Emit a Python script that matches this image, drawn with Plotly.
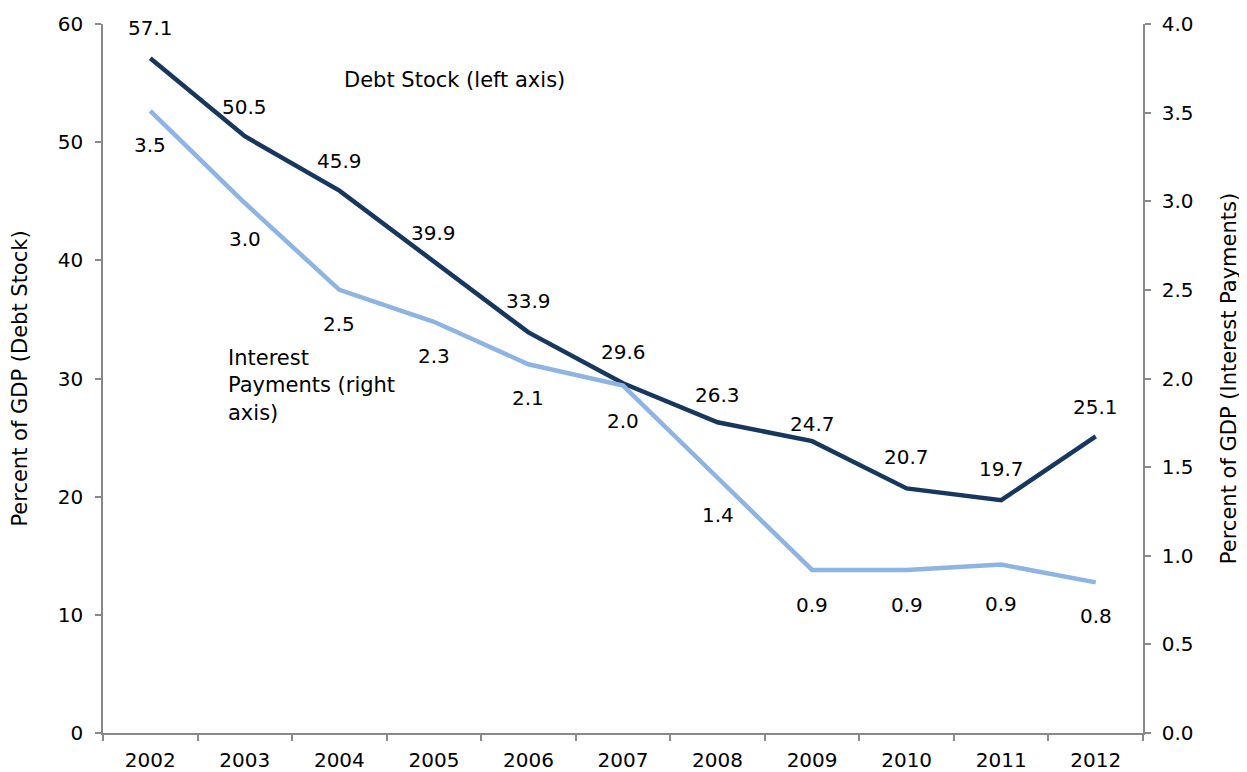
import plotly.graph_objects as go

years = ["2002", "2003", "2004", "2005", "2006", "2007", "2008", "2009", "2010", "2011", "2012"]
debt_stock = [57.1, 50.5, 45.9, 39.9, 33.9, 29.6, 26.3, 24.7, 20.7, 19.7, 25.1]
interest_payments = [3.5, 3.0, 2.5, 2.3, 2.1, 2.0, 1.4, 0.9, 0.9, 0.9, 0.8]
# plotted positions of interest line (more precise than rounded labels)
interest_plot = [3.51, 2.99, 2.50, 2.32, 2.08, 1.96, 1.44, 0.92, 0.92, 0.95, 0.85]

left_ticks = [0, 10, 20, 30, 40, 50, 60]
right_ticks = [0.0, 0.5, 1.0, 1.5, 2.0, 2.5, 3.0, 3.5, 4.0]

DARK = "#17375E"
LIGHT = "#8DB4E2"
FONT = "DejaVu Sans, Verdana, sans-serif"
FS = 20
FS_TXT = 21

W, H = 1247, 772
OFF = 8  # page body margin
X0, X1, Y0, Y1 = 103, 1143, 24, 733  # desired plot area on screen
L, T = X0 - OFF, Y0 - OFF
R, B = W - (X1 - OFF), H - (Y1 - OFF)
pw, ph = X1 - X0, Y1 - Y0


def px(x, y):
    return (x - X0) / pw, 1 - (y - Y0) / ph


fig = go.Figure()
fig.add_trace(go.Scatter(x=years, y=debt_stock, mode="lines",
                         line=dict(color=DARK, width=4.5), yaxis="y", showlegend=False))
fig.add_trace(go.Scatter(x=years, y=interest_plot, mode="lines",
                         line=dict(color=LIGHT, width=4.5), yaxis="y2", showlegend=False))

tf = dict(family=FONT, size=FS, color="#000")
txf = dict(family=FONT, size=FS_TXT, color="#000")
debt_shift = [30, 29, 30, 29, 31, 31, 27, 17, 31, 31, 29]
for i, (v, s) in enumerate(zip(debt_stock, debt_shift)):
    fig.add_annotation(x=i, y=v, xref="x", yref="y", text=f"{v:.1f}", showarrow=False,
                       yshift=s, font=tf)
int_shift = [-34, -36, -34, -34, -34, -35, -37, -35, -35, -39, -34]
for i, (v, p, s) in enumerate(zip(interest_payments, interest_plot, int_shift)):
    fig.add_annotation(x=i, y=p, xref="x", yref="y2", text=f"{v:.1f}", showarrow=False,
                       yshift=s, font=tf)

ax, ay = px(454, 80)
fig.add_annotation(x=ax, y=ay, xref="paper", yref="paper", xanchor="center", yanchor="middle",
                   text="Debt Stock (left axis)", showarrow=False, font=txf)
bx, by = px(226, 385)
fig.add_annotation(x=bx, y=by, xref="paper", yref="paper", xanchor="left", yanchor="middle",
                   align="left", showarrow=False,
                   text="Interest<br>Payments (right<br>axis)", font=txf)

axis_common = dict(showgrid=False, zeroline=False, showline=True, linecolor="#898989",
                   linewidth=1.5, ticks="outside", ticklen=6, tickcolor="#898989", tickwidth=1.5,
                   tickfont=tf, automargin=False)

fig.update_layout(
    width=W, height=H,
    margin=dict(l=L, r=R, t=T, b=B),
    paper_bgcolor="white", plot_bgcolor="white",
    font=tf,
    xaxis=dict(type="category", range=[-0.5, 10.5], tickson="boundaries",
               ticklabelstandoff=8, **axis_common),
    yaxis=dict(range=[0, 60], tickvals=left_ticks, ticktext=[str(t) for t in left_ticks],
               ticklabelstandoff=8,
               title=dict(text="Percent of GDP (Debt Stock)", font=txf, standoff=37),
               **axis_common),
    yaxis2=dict(range=[0, 4], overlaying="y", side="right", tickvals=right_ticks,
                ticktext=[f"{t:.1f}" for t in right_ticks], ticklabelstandoff=7,
                title=dict(text="Percent of GDP (Interest Payments)", font=txf, standoff=29),
                **axis_common),
)

fig.write_html("out.html")
